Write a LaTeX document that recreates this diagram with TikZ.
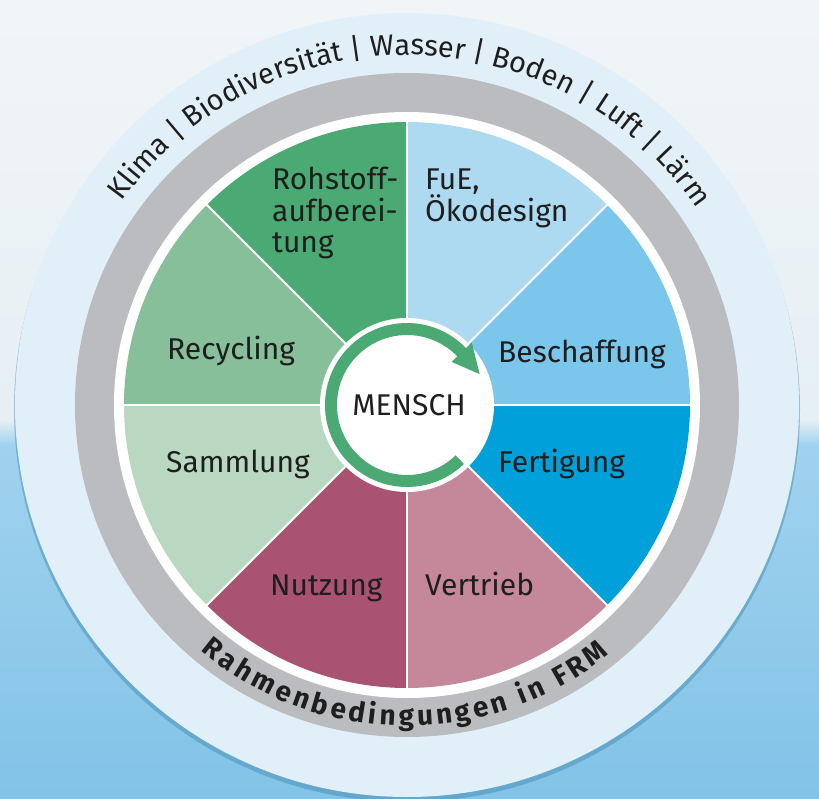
\documentclass[tikz,border=0pt]{standalone}
\usepackage{fontspec}
\setmainfont{Fira Sans}
\usetikzlibrary{decorations.text}
\definecolor{bgtop}{HTML}{F1F5F8}
\definecolor{bgmid}{HTML}{E6EFF4}
\definecolor{bgblue}{HTML}{A0D2EE}
\definecolor{bgblue2}{HTML}{82C3E7}
\definecolor{shadowc}{HTML}{3F86AE}
\definecolor{lightring}{HTML}{E1F0F8}
\definecolor{grayring}{HTML}{BBBCBF}
\definecolor{segRoh}{HTML}{4BAA74}
\definecolor{segRec}{HTML}{86BF99}
\definecolor{segSam}{HTML}{B8D8C1}
\definecolor{segNut}{HTML}{AA5272}
\definecolor{segVer}{HTML}{C4889A}
\definecolor{segFer}{HTML}{00A1DB}
\definecolor{segBes}{HTML}{7BC7EB}
\definecolor{segFuE}{HTML}{AEDAF1}
\definecolor{arrowgreen}{HTML}{4BAA74}
\definecolor{txt}{HTML}{1E1E1E}
\begin{document}
\begin{tikzpicture}[x=1pt,y=1pt,
  seglabel/.style={anchor=base west, inner sep=0pt, font=\fontsize{30}{32}\selectfont, text=txt},
  divider/.style={draw=white, line width=2pt}]
\useasboundingbox (-407,-393) rectangle (412,405);
% background
\shade[top color=bgtop, bottom color=bgmid] (-407,-15) rectangle (412,405);
\shade[top color=bgmid, bottom color=bgblue] (-407,-40) rectangle (412,-15);
\shade[top color=bgblue, bottom color=bgblue2] (-407,-393) rectangle (412,-40);
% shadow and rings
\fill[shadowc, opacity=0.45] (0,-4) circle[radius=393pt];
\fill[lightring] (0,0) circle[radius=392pt];
\fill[grayring] (0,0) circle[radius=332pt];
\fill[white] (0,0) circle[radius=293pt];
% segments
\foreach \a/\c in {90/segRoh,135/segRec,180/segSam,225/segNut,270/segVer,315/segFer,0/segBes,45/segFuE}
  \fill[\c] (0,0) -- (\a:283pt) arc[start angle=\a, end angle=\a+45, radius=283pt] -- cycle;
\foreach \a in {0,45,...,315}
  \draw[divider] (0,0) -- (\a:283.5pt);
% centre
\fill[white] (0,0) circle[radius=87pt];
\fill[arrowgreen] (43:82pt) arc[start angle=43, end angle=314, radius=82pt]
  -- (314:70pt) arc[start angle=314, end angle=43, radius=70pt] -- cycle;
\fill[arrowgreen] (44:62pt) -- (44:90pt) -- (23:79pt) -- cycle;
\node[inner sep=0pt, font=\fontsize{30}{32}\selectfont, text=txt] (mensch) at (2,0) {MENSCH};
% segment labels
\node[seglabel] (roh1) at (-135,215) {Rohstoff-};
\node[seglabel] (roh2) at (-135,183) {aufberei-};
\node[seglabel] (roh3) at (-135,152) {tung};
\node[seglabel] (fue1) at (18,215) {FuE,};
\node[seglabel] (fue2) at (18,183) {Ökodesign};
\node[seglabel] (rec) at (-240,46) {Recycling};
\node[seglabel] (bes) at (91,43) {Beschaffung};
\node[seglabel] (sam) at (-241,-67) {Sammlung};
\node[seglabel] (fer) at (91,-67) {Fertigung};
\node[seglabel] (nut) at (-137,-190) {Nutzung};
\node[seglabel] (ver) at (18,-190) {Vertrieb};
% outer arc text
\path[decorate, decoration={text along path, text format delimiters={[}{]},
   text={[\fontsize{29}{30}\selectfont]Klima | Biodiversität | Wasser | Boden | Luft | Lärm},
   text color=txt, text align={fit to path}}]
  (144.5:350pt) arc[start angle=144.5, end angle=36, radius=350pt];
% bottom arc text
\path[decorate, decoration={text along path, text format delimiters={[}{]},
   text={[\bfseries\fontsize{28}{30}\selectfont]Rahmenbedingungen in FRM},
   text color=txt, text align={fit to path}}]
  (230:321pt) arc[start angle=230, end angle=309, radius=321pt];
\end{tikzpicture}
\end{document}
